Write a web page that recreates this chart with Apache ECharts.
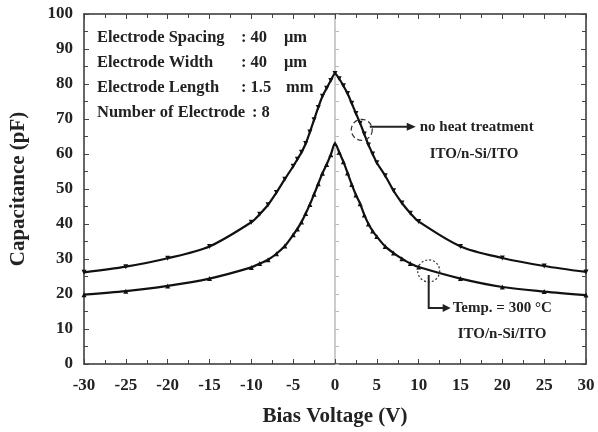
<!DOCTYPE html>
<html>
<head>
<meta charset="utf-8">
<script src="https://cdn.jsdelivr.net/npm/echarts@6/dist/echarts.min.js"></script>
<style>html,body{margin:0;padding:0;background:#fff}#c{width:598px;height:432px}</style>
</head>
<body>
<div id="c"></div>
<script>
// Bias voltage samples (V)
var biasV = [-30,-25,-20,-15,-10,-9,-8,-7,-6,-5,-4.5,-4,-3.5,-3,-2.5,-2,-1.5,-1,-0.5,0,
             0.5,1,1.5,2,2.5,3,3.5,4,4.5,5,6,7,8,9,10,15,20,25,30];
// No heat treatment (pF)
var capNoHeat = [26.2,27.8,30.2,33.6,40.5,42.8,45.5,49.0,52.8,56.5,58.5,60.5,63.0,66.3,69.8,73.3,76.5,78.8,81.0,83.0,
                 81.5,79.5,77.3,74.5,71.6,68.8,65.7,62.6,60.0,57.5,53.8,49.5,46.0,43.1,40.7,33.6,30.3,28.0,26.3];
// Temp = 300 C (pF)
var cap300C = [19.8,20.8,22.3,24.4,27.6,28.7,29.8,31.5,33.7,36.9,38.6,40.6,43.0,45.6,48.5,51.5,54.5,57.0,59.8,63.0,
               60.5,57.8,54.6,51.3,48.3,45.8,42.6,40.0,38.0,36.4,33.6,31.7,30.1,28.7,27.7,24.4,22.0,20.7,19.7];
var xTicks = {min: -30, max: 30, interval: 5};
var yTicks = {min: 0, max: 100, interval: 10};

var FONT = '"Liberation Serif","Times New Roman",serif';
function pairs(xs, ys){ return xs.map(function(x,i){ return [x, ys[i]]; }); }

var chart = echarts.init(document.getElementById('c'));
var axisLineStyle = {color:'#333', width:1.5};
chart.setOption({
  animation:false,
  backgroundColor:'#fff',
  grid:{left:82, right:12, top:14, bottom:65, containLabel:false},
  xAxis:[{
    type:'value', min:xTicks.min, max:xTicks.max, interval:xTicks.interval,
    name:'Bias Voltage (V)', nameLocation:'middle', nameGap:42,
    nameTextStyle:{fontFamily:FONT, fontWeight:'bold', fontSize:21, color:'#222'},
    axisLine:{show:true, onZero:false, lineStyle:axisLineStyle},
    axisTick:{inside:true, length:5, lineStyle:{color:'#444'}},
    minorTick:{show:true, splitNumber:2, length:4, lineStyle:{color:'#444'}},
    axisLabel:{fontFamily:FONT, fontWeight:'bold', fontSize:17, color:'#222', margin:13},
    splitLine:{show:false}
  },{
    type:'value', position:'top', min:xTicks.min, max:xTicks.max, interval:xTicks.interval,
    axisLine:{show:true, onZero:false, lineStyle:axisLineStyle},
    axisTick:{inside:true, length:5, lineStyle:{color:'#444'}},
    minorTick:{show:true, splitNumber:2, length:4, lineStyle:{color:'#444'}},
    axisLabel:{show:false}, splitLine:{show:false}
  }],
  yAxis:[{
    type:'value', min:yTicks.min, max:yTicks.max, interval:yTicks.interval,
    name:'Capacitance (pF)', nameLocation:'middle', nameGap:55, nameRotate:90,
    nameTextStyle:{fontFamily:FONT, fontWeight:'bold', fontSize:21, color:'#222'},
    axisLine:{show:true, onZero:false, lineStyle:axisLineStyle},
    axisTick:{inside:true, length:5, lineStyle:{color:'#444'}},
    minorTick:{show:true, splitNumber:2, length:4, lineStyle:{color:'#444'}},
    axisLabel:{fontFamily:FONT, fontWeight:'bold', fontSize:17, color:'#222', margin:11},
    splitLine:{show:false}
  },{
    type:'value', position:'right', min:yTicks.min, max:yTicks.max, interval:yTicks.interval,
    axisLine:{show:true, onZero:false, lineStyle:axisLineStyle},
    axisTick:{inside:true, length:5, lineStyle:{color:'#444'}},
    minorTick:{show:true, splitNumber:2, length:4, lineStyle:{color:'#444'}},
    axisLabel:{show:false}, splitLine:{show:false}
  },{
    type:'value', position:'left', min:yTicks.min, max:yTicks.max, interval:yTicks.interval,
    axisLine:{show:true, onZero:true, onZeroAxisIndex:0, lineStyle:{color:'#bbb', width:1.5}},
    axisTick:{show:true, inside:true, length:4, lineStyle:{color:'#bbb'}},
    minorTick:{show:true, splitNumber:2, length:4, lineStyle:{color:'#bbb'}},
    axisLabel:{show:false}, splitLine:{show:false}
  }],
  series:[{
    name:'no heat treatment', type:'line', xAxisIndex:0, yAxisIndex:0,
    data:pairs(biasV, capNoHeat), smooth:0.3,
    symbol:'triangle', symbolSize:5, symbolRotate:180,
    lineStyle:{color:'#111', width:2.2}, itemStyle:{color:'#111'}, z:5
  },{
    name:'Temp. = 300 C', type:'line', xAxisIndex:0, yAxisIndex:0,
    data:pairs(biasV, cap300C), smooth:0.3,
    symbol:'triangle', symbolSize:5,
    lineStyle:{color:'#111', width:2.2}, itemStyle:{color:'#111'}, z:5
  }]
});

// Annotations
var txt = {fontFamily:FONT, fontWeight:'bold', fontSize:15, fill:'#222'};
function T(x,y,s,extra){ var st = Object.assign({text:s, x:x, y:y, verticalAlign:'middle'}, txt, extra||{}); return {type:'text', style:st, z:20}; }
var big = {fontSize:16.5};
var P1 = chart.convertToPixel({gridIndex:0}, [3.2, 66.9]);
var P2 = chart.convertToPixel({gridIndex:0}, [11.2, 26.6]);
var g = [
  T(97,38,'Electrode Spacing',big), T(241,38,': 40',big), T(284,38,'\u03bcm',big),
  T(97,63,'Electrode Width',big), T(241,63,': 40',big), T(284,63,'\u03bcm',big),
  T(97,88,'Electrode Length',big), T(241,88,': 1.5',big), T(286,88,'mm',big),
  T(97,113,'Number of Electrode',big), T(252,113,': 8',big),
  {type:'circle', shape:{cx:P1[0], cy:P1[1], r:10.5}, style:{fill:'none', stroke:'#333', lineWidth:1.2, lineDash:[5,3]}, z:20},
  {type:'line', shape:{x1:P1[0]+8, y1:P1[1]-3, x2:P1[0]+48, y2:P1[1]-3}, style:{stroke:'#222', lineWidth:2}, z:20},
  {type:'polygon', shape:{points:[[P1[0]+54,P1[1]-3],[P1[0]+45,P1[1]-7],[P1[0]+45,P1[1]+1]]}, style:{fill:'#222'}, z:20},
  T(P1[0]+58, P1[1]-3, 'no heat treatment'),
  T(474, P1[1]+24, 'ITO/n-Si/ITO', {align:'center'}),
  {type:'circle', shape:{cx:P2[0], cy:P2[1], r:11}, style:{fill:'none', stroke:'#333', lineWidth:1.2, lineDash:[2,2]}, z:20},
  {type:'polyline', shape:{points:[[P2[0],P2[1]+4],[P2[0],P2[1]+37],[P2[0]+16,P2[1]+37]]}, style:{stroke:'#222', lineWidth:2, fill:'none'}, z:20},
  {type:'polygon', shape:{points:[[P2[0]+22,P2[1]+37],[P2[0]+14,P2[1]+33],[P2[0]+14,P2[1]+41]]}, style:{fill:'#222'}, z:20},
  T(P2[0]+24, P2[1]+37, 'Temp. = 300 \u00b0C'),
  T(502, P2[1]+63, 'ITO/n-Si/ITO', {align:'center'})
];
chart.setOption({graphic:g});
</script>
</body>
</html>
